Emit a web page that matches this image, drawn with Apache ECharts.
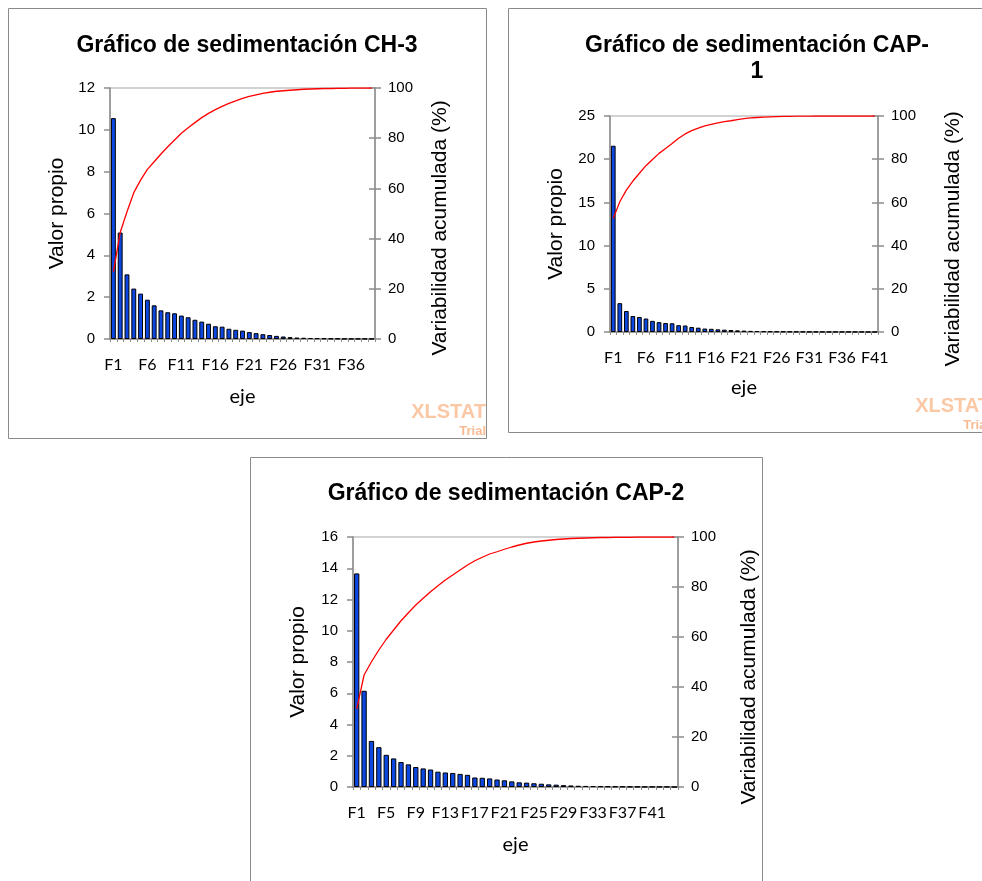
<!DOCTYPE html>
<html>
<head>
<meta charset="utf-8">
<script src="https://cdn.jsdelivr.net/npm/echarts@6/dist/echarts.min.js"></script>
<style>
  html, body { margin: 0; padding: 0; background: #fff; }
  #chart { width: 982px; height: 881px; }
</style>
</head>
<body>
<div id="chart"></div>
<script>
// Eigenvalues (Valor propio) and cumulative variability (%) per factor, for three scree plots.
const ch3Eigen = [10.56, 5.09, 3.09, 2.41, 2.17, 1.88, 1.61, 1.37, 1.28, 1.23,
  1.12, 1.04, 0.92, 0.83, 0.73, 0.61, 0.59, 0.49, 0.44, 0.40,
  0.33, 0.28, 0.23, 0.19, 0.15, 0.12, 0.09, 0.07, 0.06, 0.05,
  0.04, 0.03, 0.02, 0.02, 0.01, 0.01, 0.01, 0.01, 0.01];
const ch3Cum = [26.8, 42.4, 50.7, 58.3, 63.3, 67.6, 70.6, 73.7, 76.6, 79.3,
  82.0, 84.2, 86.2, 88.2, 89.9, 91.4, 92.7, 93.9, 94.9, 95.9,
  96.7, 97.3, 97.9, 98.3, 98.7, 98.9, 99.1, 99.3, 99.5, 99.6,
  99.7, 99.8, 99.8, 99.9, 99.9, 100, 100, 100, 100];

const cap1Eigen = [21.56, 3.34, 2.43, 1.85, 1.74, 1.56, 1.29, 1.14, 1.04, 1.01,
  0.79, 0.75, 0.58, 0.50, 0.40, 0.37, 0.31, 0.27, 0.23, 0.19,
  0.16, 0.13, 0.11, 0.09, 0.07, 0.06, 0.05, 0.04, 0.03, 0.03,
  0.02, 0.02, 0.01, 0.01, 0.01, 0.01, 0.01, 0.01, 0.01, 0, 0];
const cap1Cum = [52.6, 60.3, 65.7, 69.9, 73.5, 77.0, 79.9, 82.7, 85.0, 87.3,
  89.7, 91.7, 93.2, 94.4, 95.4, 96.1, 96.8, 97.4, 97.8, 98.3,
  98.8, 99.1, 99.3, 99.5, 99.6, 99.7, 99.8, 99.8, 99.9, 99.9,
  99.9, 100, 100, 100, 100, 100, 100, 100, 100, 100, 100];

const cap2Eigen = [13.67, 6.16, 2.95, 2.55, 2.06, 1.83, 1.60, 1.45, 1.28, 1.19,
  1.12, 0.98, 0.93, 0.90, 0.84, 0.78, 0.61, 0.59, 0.55, 0.48,
  0.43, 0.36, 0.30, 0.28, 0.24, 0.21, 0.17, 0.15, 0.12, 0.10,
  0.08, 0.07, 0.06, 0.05, 0.04, 0.03, 0.03, 0.02, 0.02, 0.01,
  0.01, 0.01, 0.01, 0];
const cap2Cum = [31.2, 44.8, 50.1, 54.8, 59.1, 62.8, 66.5, 69.7, 72.8, 75.5,
  78.1, 80.5, 82.8, 84.8, 86.8, 88.8, 90.5, 91.9, 93.2, 94.1,
  95.1, 96.0, 96.8, 97.5, 98.0, 98.4, 98.7, 99.0, 99.2, 99.4,
  99.5, 99.6, 99.7, 99.8, 99.8, 99.9, 99.9, 99.9, 100, 100,
  100, 100, 100, 100];

// Factor names F1..Fn
const factorNames = n => Array.from({ length: n }, (_, i) => 'F' + (i + 1));
const ch3Factors = factorNames(ch3Eigen.length);
const cap1Factors = factorNames(cap1Eigen.length);
const cap2Factors = factorNames(cap2Eigen.length);

// Panel layout
const panels = [
  { title: ['Gráfico de sedimentación CH-3'], titleX: 247, titleY: 46,
    box: [8.5, 8.5, 478, 430], grid: { left: 110, top: 88, width: 265, height: 251 },
    cats: ch3Factors, eig: ch3Eigen, cum: ch3Cum, leftMax: 12, leftStep: 2, labelEvery: 4,
    leftNameX: 57, rightNameX: 440, rightNameY: 228, ejeY: 397, mark: [486, 412] },
  { title: ['Gráfico de sedimentación CAP-', '1'], titleX: 757, titleY: 46,
    box: [508.5, 8.5, 490, 424], grid: { left: 610, top: 116, width: 268, height: 216 },
    cats: cap1Factors, eig: cap1Eigen, cum: cap1Cum, leftMax: 25, leftStep: 5, labelEvery: 4,
    leftNameX: 556, rightNameX: 953, rightNameY: 239, ejeY: 388, mark: [990, 406] },
  { title: ['Gráfico de sedimentación CAP-2'], titleX: 506, titleY: 494,
    box: [250.5, 457.5, 512, 440], grid: { left: 353, top: 537, width: 325, height: 250 },
    cats: cap2Factors, eig: cap2Eigen, cum: cap2Cum, leftMax: 16, leftStep: 2, labelEvery: 3,
    leftNameX: 298, rightNameX: 749, rightNameY: 677, ejeY: 845, mark: null }
];

const axisGrey = '#8c8c8c';
const tickFont = { fontFamily: 'Liberation Sans, Arial, sans-serif', fontSize: 15, color: '#000' };

const grids = [], xAxes = [], yAxes = [], series = [], graphics = [];

panels.forEach((p, i) => {
  grids.push(Object.assign({ show: true, borderColor: '#c4c4c4', borderWidth: 1.5, containLabel: false }, p.grid));
  xAxes.push({
    type: 'category', gridIndex: i, data: p.cats, boundaryGap: true,
    axisLine: { lineStyle: { color: axisGrey, width: 1.5 } },
    axisTick: { show: true, interval: 0, length: 3, lineStyle: { color: axisGrey } },
    axisLabel: { interval: p.labelEvery, fontFamily: 'Lato, sans-serif', fontSize: 16, color: '#000', margin: 18 }
  });
  const leftIdx = yAxes.length;
  yAxes.push({
    type: 'value', gridIndex: i, position: 'left', min: 0, max: p.leftMax, interval: p.leftStep,
    axisLine: { show: true, lineStyle: { color: axisGrey, width: 1.5 } },
    axisTick: { show: true, length: 6, lineStyle: { color: axisGrey, width: 1.5 } },
    splitLine: { show: false },
    axisLabel: Object.assign({ margin: 15 }, tickFont)
  });
  const rightIdx = yAxes.length;
  yAxes.push({
    type: 'value', gridIndex: i, position: 'right', min: 0, max: 100, interval: 20,
    axisLine: { show: true, lineStyle: { color: axisGrey, width: 1.5 } },
    axisTick: { show: true, length: 6, lineStyle: { color: axisGrey, width: 1.5 } },
    splitLine: { show: false },
    axisLabel: Object.assign({ margin: 13 }, tickFont)
  });
  // inner half of the crossing ticks on the right axis
  yAxes.push({
    type: 'value', gridIndex: i, position: 'right', min: 0, max: 100, interval: 20,
    axisLine: { show: false },
    axisTick: { show: true, inside: true, length: 6, lineStyle: { color: axisGrey, width: 1.5 } },
    splitLine: { show: false }, axisLabel: { show: false }
  });

  series.push({
    type: 'bar', xAxisIndex: i, yAxisIndex: leftIdx, data: p.eig,
    barCategoryGap: '28%',
    itemStyle: { color: '#0d47e2', borderColor: '#000', borderWidth: 1 },
    emphasis: { disabled: true }, animation: false
  });
  series.push({
    type: 'line', xAxisIndex: i, yAxisIndex: rightIdx, data: p.cum,
    showSymbol: false, symbol: 'none',
    lineStyle: { color: '#ff0000', width: 1.3 },
    emphasis: { disabled: true }, animation: false
  });

  // panel frame
  graphics.push({
    type: 'rect', shape: { x: p.box[0], y: p.box[1], width: p.box[2], height: p.box[3] },
    style: { fill: 'none', stroke: '#8a8a8a', lineWidth: 1 }, z: -1
  });
  // title
  p.title.forEach((t, k) => graphics.push({
    type: 'text', x: p.titleX, y: p.titleY + k * 26,
    style: { text: t, fill: '#000', font: 'bold 23px "Liberation Sans", Arial, sans-serif',
      textAlign: 'center', textVerticalAlign: 'middle' }
  }));
  const g = p.grid;
  const midY = g.top + g.height / 2;
  graphics.push({
    type: 'text', x: p.leftNameX, y: midY, rotation: Math.PI / 2,
    style: { text: 'Valor propio', fill: '#000', font: '21px "Liberation Sans", Arial, sans-serif',
      textAlign: 'center', textVerticalAlign: 'middle' }
  });
  graphics.push({
    type: 'text', x: p.rightNameX, y: p.rightNameY, rotation: Math.PI / 2,
    style: { text: 'Variabilidad acumulada (%)', fill: '#000', font: '21px "Liberation Sans", Arial, sans-serif',
      textAlign: 'center', textVerticalAlign: 'middle' }
  });
  graphics.push({
    type: 'text', x: g.left + g.width / 2, y: p.ejeY,
    style: { text: 'eje', fill: '#000', font: '20px Lato, sans-serif',
      textAlign: 'center', textVerticalAlign: 'middle' }
  });
  if (p.mark) {
    graphics.push({
      type: 'text', x: p.mark[0], y: p.mark[1],
      style: { text: 'XLSTAT', fill: '#fbc8a6', font: 'bold 20px "Liberation Sans", Arial, sans-serif',
        textAlign: 'right', textVerticalAlign: 'middle' }
    });
    graphics.push({
      type: 'text', x: p.mark[0], y: p.mark[1] + 19,
      style: { text: 'Trial', fill: '#f7bc94', font: 'bold 13px "Liberation Sans", Arial, sans-serif',
        textAlign: 'right', textVerticalAlign: 'middle' }
    });
  }
});

const chart = echarts.init(document.getElementById('chart'), null, { renderer: 'canvas' });
chart.setOption({
  animation: false,
  backgroundColor: '#fff',
  grid: grids,
  xAxis: xAxes,
  yAxis: yAxes,
  series: series,
  graphic: graphics
});
</script>
</body>
</html>
